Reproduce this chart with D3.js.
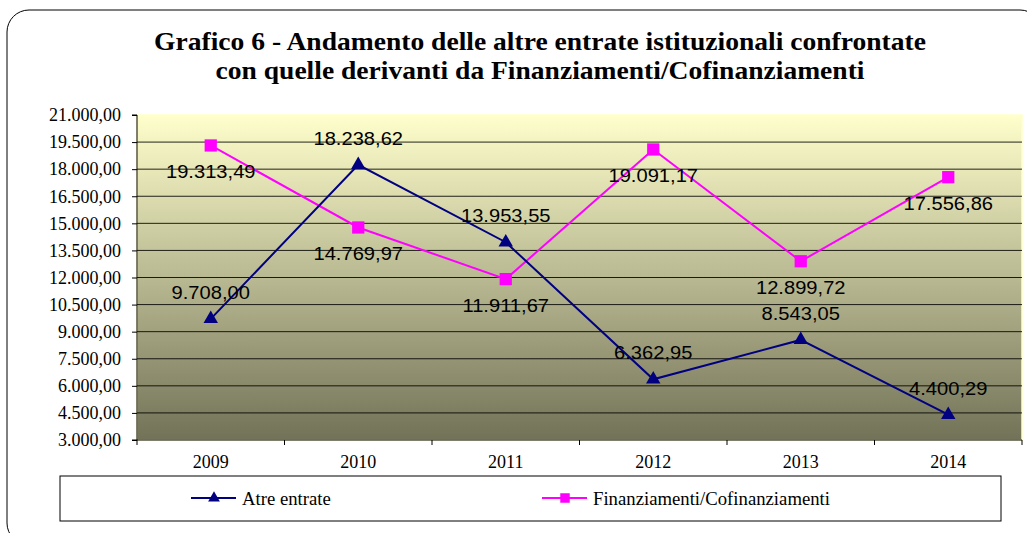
<!DOCTYPE html>
<html><head><meta charset="utf-8">
<script src="https://cdn.jsdelivr.net/npm/d3@7"></script>
<style>body{margin:0;background:#fff}svg{display:block}</style>
</head><body>
<svg id="c" width="1027" height="533"></svg>
<script>
const years = ["2009","2010","2011","2012","2013","2014"];
const altreEntrate = [9708.00, 18238.62, 13953.55, 6362.95, 8543.05, 4400.29];
const finanziamenti = [19313.49, 14769.97, 11911.67, 19091.17, 12899.72, 17556.86];
const yTicks = [3000,4500,6000,7500,9000,10500,12000,13500,15000,16500,18000,19500,21000];
const seriesNames = ["Atre entrate","Finanziamenti/Cofinanziamenti"];
const titleLines = ["Grafico 6 - Andamento delle altre entrate istituzionali confrontate","con quelle derivanti da Finanziamenti/Cofinanziamenti"];

const SERIF = "'Liberation Serif','Times New Roman',serif";
const SANS = "'Liberation Sans',Arial,sans-serif";
const svg = d3.select("#c");
const fmt = v => { const s = d3.format(",.2f")(v); return s.replace(/,/g,"#").replace(/\./g,",").replace(/#/g,"."); };

// outer border
svg.append("rect").attr("x",7).attr("y",10).attr("width",1035).attr("height",535)
  .attr("rx",22).attr("fill","#fff").attr("stroke","#000").attr("stroke-width",1);

// title
svg.append("g").selectAll("text").data(titleLines).join("text")
  .attr("transform",(d,i)=>`translate(540,${50+i*29}) scale(1.06,1)`)
  .attr("text-anchor","middle").attr("font-family",SERIF)
  .attr("font-weight","bold").attr("font-size",26).text(d=>d);

const L=137, R=1022, T=115, B=440;
const x = d3.scaleBand().domain(years).range([L,R]);
const y = d3.scaleLinear().domain([3000,21000]).range([B,T]);

const defs = svg.append("defs");
const g = defs.append("linearGradient").attr("id","bg").attr("x1",0).attr("y1",0).attr("x2",0).attr("y2",1);
g.append("stop").attr("offset","0%").attr("stop-color","#FFFFCC");
g.append("stop").attr("offset","100%").attr("stop-color","#727258");

svg.append("rect").attr("x",L).attr("y",T).attr("width",R-L).attr("height",B-T)
  .attr("fill","url(#bg)").attr("stroke","#FFFFCC").attr("stroke-width",1.5);

// gridlines
svg.append("g").selectAll("line").data(yTicks.filter(t=>t>3000 && t<21000)).join("line")
  .attr("x1",L).attr("x2",R).attr("y1",d=>y(d)).attr("y2",d=>y(d))
  .attr("stroke","#000").attr("stroke-width",1).attr("opacity",0.85);

// y axis
const ya = svg.append("g").attr("transform",`translate(${L},0)`)
  .call(d3.axisLeft(y).tickValues(yTicks).tickFormat(fmt).tickSize(5).tickPadding(11));
ya.select(".domain").attr("stroke","#000").attr("d",`M-5,${T}H0V${B}H-5`);
ya.selectAll("text").attr("font-family",SERIF).attr("font-size",18).attr("fill","#000");

// x axis
const xa = svg.append("g").attr("transform",`translate(0,${B})`);
xa.append("line").attr("x1",L).attr("x2",R).attr("stroke","#000");
xa.selectAll("line.t").data(d3.range(years.length+1)).join("line").attr("class","t")
  .attr("x1",i=>L+i*x.step()).attr("x2",i=>L+i*x.step()).attr("y1",0).attr("y2",5).attr("stroke","#000");
xa.selectAll("text").data(years).join("text")
  .attr("x",d=>x(d)+x.bandwidth()/2).attr("y",28).attr("text-anchor","middle")
  .attr("font-family",SERIF).attr("font-size",18).text(d=>d);

const cx = d => x(d)+x.bandwidth()/2;
const line = d3.line().x((d,i)=>cx(years[i])).y(d=>y(d));
const tri = d3.symbol().type(d3.symbolTriangle).size(90);
const sq = d3.symbol().type(d3.symbolSquare).size(150);

function drawSeries(vals,color,sym,dy){
  svg.append("path").datum(vals).attr("d",line).attr("fill","none").attr("stroke",color).attr("stroke-width",2);
  svg.append("g").selectAll("path").data(vals).join("path")
    .attr("d",sym).attr("transform",(d,i)=>`translate(${cx(years[i])},${y(d)})`).attr("fill",color);
  svg.append("g").selectAll("text").data(vals).join("text")
    .attr("transform",(d,i)=>`translate(${cx(years[i])},${y(d)+dy}) scale(1.06,1)`).attr("text-anchor","middle")
    .attr("font-family",SANS).attr("font-size",19).attr("fill","#000")
    .text(d=>fmt(d));
}
drawSeries(finanziamenti,"#FF00FF",sq,33);
drawSeries(altreEntrate,"#000080",tri,-20);

// legend
svg.append("rect").attr("x",60).attr("y",476).attr("width",941).attr("height",45).attr("fill","#fff").attr("stroke","#000");
const leg = [{n:seriesNames[0],c:"#000080",s:"tri",x:191},{n:seriesNames[1],c:"#FF00FF",s:"sq",x:542}];
leg.forEach(l=>{
  svg.append("line").attr("x1",l.x).attr("x2",l.x+45).attr("y1",498).attr("y2",498).attr("stroke",l.c).attr("stroke-width",2);
  svg.append("path").attr("d",l.s==="tri"?d3.symbol().type(d3.symbolTriangle).size(60)():d3.symbol().type(d3.symbolSquare).size(90)())
    .attr("transform",`translate(${l.x+23},498)`).attr("fill",l.c);
  svg.append("text").attr("transform",`translate(${l.x+51},505) scale(1.04,1)`).attr("font-family",SERIF)
    .attr("font-size",18).text(l.n);
});
</script>
</body></html>
